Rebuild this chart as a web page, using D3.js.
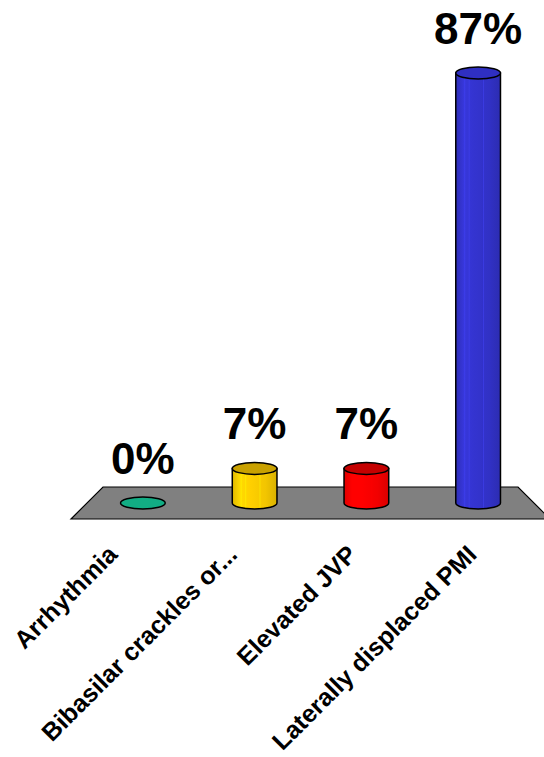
<!DOCTYPE html>
<html>
<head>
<meta charset="utf-8">
<script src="https://cdn.jsdelivr.net/npm/d3@7"></script>
<style>
  html, body { margin: 0; padding: 0; background: #fff; }
  svg { display: block; }
</style>
</head>
<body>
<svg id="chart" width="544" height="757"></svg>
<script>
// Poll responses (percent of respondents)
const categories = ["Arrhythmia", "Bibasilar crackles or...", "Elevated JVP", "Laterally displaced PMI"];
const values = [0, 7, 7, 87];
const valueLabels = ["0%", "7%", "7%", "87%"];
const bodyColors = ["#12ad84", "#ffd000", "#ff0000", "#3434d0"];
const capColors  = ["#12ad84", "#c9a100", "#c40000", "#2f2fc2"];

const svg = d3.select("#chart");
const defs = svg.append("defs");

// Floor (oblique parallelogram): back edge, front edge, and mid-depth line
const floorBack  = { y: 487, x0: 103, x1: 518 };
const floorFront = { y: 519, x0: 71,  x1: 550 };
const midY = (floorBack.y + floorFront.y) / 2;

// Bars stand at mid-depth of the floor
const xMid = d3.scaleBand()
  .domain(categories)
  .range([(floorBack.x0 + floorFront.x0) / 2, (floorBack.x1 + floorFront.x1) / 2]);

// Category labels run along the front edge of the floor
const xFront = d3.scaleBand()
  .domain(categories)
  .range([floorFront.x0, floorFront.x1]);

const y = d3.scaleLinear()
  .domain([0, 87])
  .range([midY, 73]);

// Floor
svg.append("path")
  .attr("d", d3.line()([
    [floorBack.x0, floorBack.y], [floorBack.x1, floorBack.y],
    [floorFront.x1, floorFront.y], [floorFront.x0, floorFront.y]
  ]) + "Z")
  .attr("fill", "#808080")
  .attr("stroke", "#000")
  .attr("stroke-width", 1.2);

// Horizontal shading for the cylinder bodies
function shadeGradient(id, base) {
  const c = d3.color(base);
  const g = defs.append("linearGradient").attr("id", id)
    .attr("x1", "0%").attr("x2", "100%").attr("y1", "0%").attr("y2", "0%");
  const stops = [
    [0.00, c.darker(0.35)],
    [0.18, c.brighter(0.15)],
    [0.40, c],
    [0.75, c.darker(0.15)],
    [1.00, c.darker(0.45)]
  ];
  stops.forEach(([o, col]) => g.append("stop").attr("offset", o).attr("stop-color", col.formatHex()));
}

const barW = xMid.step() * 0.4;
const rx = barW / 2;
const ry = 6;

const bars = svg.append("g").selectAll("g.bar")
  .data(categories.map((c, i) => ({ cat: c, v: values[i], label: valueLabels[i], body: bodyColors[i], cap: capColors[i], i })))
  .join("g")
  .attr("class", "bar");

bars.each(function(d) {
  const g = d3.select(this);
  const cx = xMid(d.cat) + xMid.bandwidth() / 2;
  const yb = y(0);
  const yt = y(d.v);
  if (d.v === 0) {
    // Empty bar: a flat disc on the floor
    g.append("ellipse")
      .attr("cx", cx).attr("cy", yb)
      .attr("rx", rx).attr("ry", ry)
      .attr("fill", d.body)
      .attr("stroke", "#000")
      .attr("stroke-width", 1.5);
    return;
  }
  const gid = "shade" + d.i;
  shadeGradient(gid, d.body);
  const l = cx - rx, r = cx + rx;
  g.append("path")
    .attr("d", `M${l},${yt} L${l},${yb} A${rx},${ry} 0 0 0 ${r},${yb} L${r},${yt} Z`)
    .attr("fill", `url(#${gid})`)
    .attr("stroke", "#000")
    .attr("stroke-width", 1.5);
  // facet edges
  const light = d3.color(d.body).brighter(0.9).formatHex();
  [0.2, 0.3, 0.62].forEach(f => {
    const fx = l + f * barW;
    const dy = ry * Math.sqrt(1 - Math.pow((fx - cx) / rx, 2));
    g.append("line")
      .attr("x1", fx).attr("x2", fx)
      .attr("y1", yt + dy).attr("y2", yb + dy - 1)
      .attr("stroke", light)
      .attr("stroke-opacity", 0.55)
      .attr("stroke-width", 0.8);
  });
  g.append("ellipse")
    .attr("cx", cx).attr("cy", yt)
    .attr("rx", rx).attr("ry", ry)
    .attr("fill", d.cap)
    .attr("stroke", "#000")
    .attr("stroke-width", 1.5);
});

// Value labels
bars.append("text")
  .attr("x", d => xMid(d.cat) + xMid.bandwidth() / 2)
  .attr("y", d => y(d.v) - 29)
  .attr("text-anchor", "middle")
  .attr("font-family", "'Liberation Sans', Arial, sans-serif")
  .attr("font-weight", "bold")
  .attr("font-size", 44)
  .attr("fill", "#000")
  .text(d => d.label);

// Category axis along the front of the floor
const axis = svg.append("g")
  .attr("transform", `translate(0,${floorFront.y + 37})`)
  .call(d3.axisBottom(xFront).tickSize(0).tickPadding(0));
axis.select(".domain").remove();
axis.selectAll("text")
  .attr("x", 0).attr("y", 0).attr("dy", 0)
  .attr("transform", "translate(-12,0) rotate(-45)")
  .attr("text-anchor", "end")
  .attr("font-family", "'Liberation Sans', Arial, sans-serif")
  .attr("font-weight", "bold")
  .attr("font-size", 25)
  .attr("fill", "#000");
</script>
</body>
</html>
